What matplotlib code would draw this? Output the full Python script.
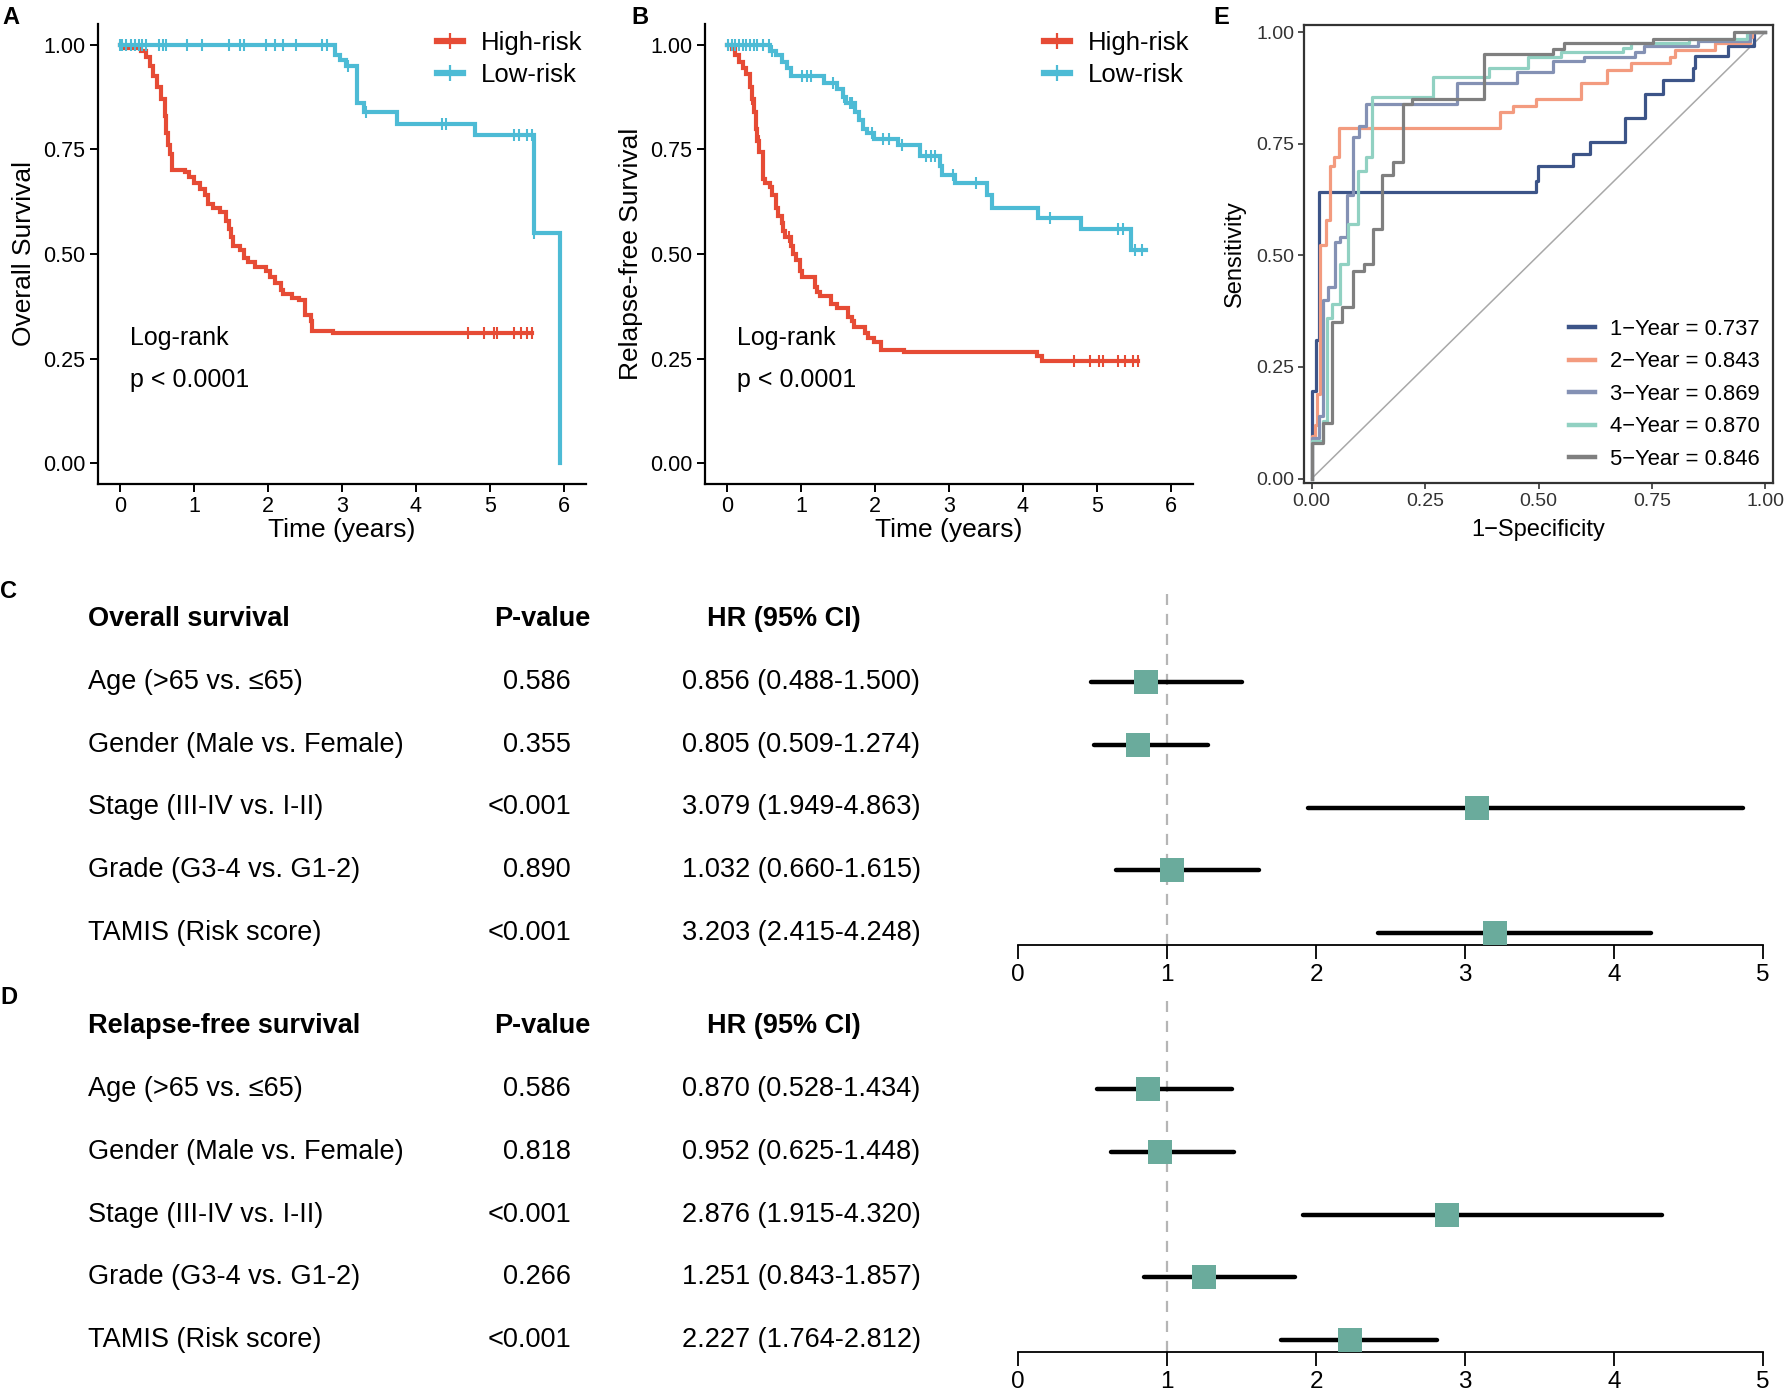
import numpy as np
import matplotlib
matplotlib.use("Agg")
import matplotlib.pyplot as plt
import matplotlib.transforms as mtransforms
from matplotlib.lines import Line2D

plt.rcParams['font.family'] = ['Liberation Sans', 'DejaVu Sans']

W, H = 1785, 1398

# ---- Kaplan-Meier data (time in years, survival prob) ----
# A: overall survival
os_high_t = [0, 0.03, 0.28, 0.35, 0.40, 0.45, 0.50, 0.55, 0.60, 0.625, 0.65, 0.675, 0.70, 0.875,
             0.925, 1.0, 1.075, 1.15, 1.19, 1.25, 1.35, 1.425, 1.475, 1.5, 1.525, 1.625, 1.675,
             1.725, 1.825, 1.975, 2.025, 2.1, 2.175, 2.2, 2.325, 2.425, 2.5, 2.575, 2.6, 2.875]
os_high_s = [1.0, 0.993, 0.985, 0.97, 0.95, 0.925, 0.90, 0.87, 0.83, 0.79, 0.76, 0.74, 0.70, 0.695,
             0.685, 0.67, 0.655, 0.64, 0.62, 0.61, 0.60, 0.58, 0.56, 0.54, 0.52, 0.51, 0.49,
             0.48, 0.47, 0.46, 0.445, 0.43, 0.415, 0.405, 0.395, 0.39, 0.355, 0.34, 0.315, 0.31]
os_high_end = 5.575
os_high_cens = [4.7, 4.915, 5.05, 5.1, 5.325, 5.425, 5.5, 5.575]

os_low_t = [0, 2.9, 2.975, 3.05, 3.2, 3.3, 3.75, 4.8, 5.6, 5.95]
os_low_s = [1.0, 0.975, 0.965, 0.95, 0.86, 0.84, 0.81, 0.785, 0.55, 0.0]
os_low_end = 5.95
os_low_cens = [0.0, 0.025, 0.075, 0.15, 0.2, 0.25, 0.3, 0.35, 0.525, 0.575, 0.625, 0.9, 1.1,
               1.475, 1.625, 1.675, 1.975, 2.1, 2.2, 2.375, 2.725, 2.8, 3.08, 3.33, 4.35, 4.4,
               5.325, 5.4, 5.5, 5.575, 5.6]

# B: relapse-free survival
rfs_high_t = [0, 0.06, 0.11, 0.16, 0.21, 0.26, 0.31, 0.335, 0.36, 0.385, 0.41, 0.435, 0.485, 0.51,
              0.585, 0.61, 0.66, 0.685, 0.735, 0.76, 0.785, 0.86, 0.885, 0.935, 0.985, 1.01, 1.185,
              1.21, 1.26, 1.41, 1.485, 1.635, 1.685, 1.71, 1.86, 1.91, 1.985, 2.085, 2.385, 4.185, 4.26]
rfs_high_s = [1.0, 0.99, 0.975, 0.96, 0.945, 0.93, 0.90, 0.87, 0.84, 0.80, 0.77, 0.745, 0.68, 0.67,
              0.66, 0.64, 0.61, 0.59, 0.575, 0.555, 0.54, 0.52, 0.50, 0.485, 0.46, 0.445, 0.42,
              0.41, 0.40, 0.38, 0.37, 0.35, 0.34, 0.325, 0.31, 0.30, 0.29, 0.27, 0.265, 0.255, 0.245]
rfs_high_end = 5.56
rfs_high_cens = [0.335, 0.43, 0.835, 4.685, 4.91, 5.035, 5.085, 5.285, 5.385, 5.485, 5.56]

rfs_low_t = [0, 0.585, 0.66, 0.735, 0.81, 0.86, 1.31, 1.485, 1.56, 1.61, 1.735, 1.785, 1.835,
             1.885, 1.985, 2.31, 2.61, 2.885, 2.91, 3.085, 3.51, 3.585, 4.21, 4.785, 5.46]
rfs_low_s = [1.0, 0.985, 0.975, 0.96, 0.945, 0.925, 0.91, 0.895, 0.875, 0.86, 0.84, 0.82, 0.80,
             0.79, 0.775, 0.76, 0.735, 0.71, 0.69, 0.67, 0.64, 0.61, 0.585, 0.56, 0.51]
rfs_low_end = 5.66
rfs_low_cens = [0.01, 0.06, 0.11, 0.16, 0.21, 0.26, 0.31, 0.36, 0.41, 0.485, 0.56, 0.61, 1.01,
                1.085, 1.135, 1.435, 1.585, 1.66, 1.685, 1.96, 2.11, 2.185, 2.36, 2.685, 2.76,
                2.81, 3.06, 3.36, 4.36, 5.285, 5.36, 5.51, 5.61]

# ---- ROC data (E) ----
roc_labels = ["1\u2212Year = 0.737", "2\u2212Year = 0.843", "3\u2212Year = 0.869",
              "4\u2212Year = 0.870", "5\u2212Year = 0.846"]
roc_colors = ["#3C5488", "#F39B7F", "#8491B4", "#91D1C2", "#7F7F7F"]
roc_fpr = [
    [0, 0, 0.01, 0.015, 0.494, 0.498, 0.576, 0.613, 0.69, 0.734, 0.774, 0.84, 0.846, 0.918, 0.975, 1.0],
    [0, 0, 0.007, 0.012, 0.018, 0.031, 0.04, 0.05, 0.06, 0.416, 0.443, 0.494, 0.593, 0.652, 0.704,
     0.79, 0.8, 0.89, 0.967, 0.97, 1.0],
    [0, 0, 0.015, 0.025, 0.037, 0.051, 0.062, 0.078, 0.09, 0.105, 0.12, 0.32, 0.453, 0.531, 0.60,
     0.712, 0.733, 0.852, 0.967, 1.0],
    [0, 0, 0.025, 0.033, 0.045, 0.062, 0.08, 0.103, 0.12, 0.134, 0.267, 0.39, 0.477, 0.55, 0.687,
     0.704, 0.831, 0.959, 1.0],
    [0, 0, 0.025, 0.045, 0.067, 0.09, 0.115, 0.136, 0.156, 0.18, 0.202, 0.222, 0.379, 0.531, 0.556,
     0.753, 0.93, 1.0],
]
roc_tpr = [
    [0, 0.195, 0.31, 0.643, 0.667, 0.70, 0.726, 0.753, 0.807, 0.862, 0.892, 0.919, 0.946, 0.968, 1.0, 1.0],
    [0, 0.095, 0.12, 0.19, 0.524, 0.58, 0.70, 0.72, 0.785, 0.82, 0.835, 0.85, 0.885, 0.915, 0.93,
     0.945, 0.96, 0.975, 0.99, 1.0, 1.0],
    [0, 0.09, 0.14, 0.40, 0.43, 0.53, 0.54, 0.635, 0.765, 0.79, 0.84, 0.885, 0.91, 0.935, 0.945,
     0.955, 0.968, 0.98, 1.0, 1.0],
    [0, 0.085, 0.13, 0.36, 0.39, 0.48, 0.57, 0.69, 0.72, 0.855, 0.90, 0.92, 0.945, 0.955, 0.965,
     0.975, 0.985, 1.0, 1.0],
    [0, 0.08, 0.125, 0.35, 0.385, 0.465, 0.48, 0.56, 0.68, 0.71, 0.84, 0.85, 0.95, 0.962, 0.975,
     0.985, 1.0, 1.0],
]

# ---- Forest data (C, D) ----
variables = ["Age (>65 vs. \u226465)", "Gender (Male vs. Female)", "Stage (III-IV vs. I-II)",
             "Grade (G3-4 vs. G1-2)", "TAMIS (Risk score)"]
os_p = ["0.586", "0.355", "<0.001", "0.890", "<0.001"]
os_hr = [0.856, 0.805, 3.079, 1.032, 3.203]
os_lo = [0.488, 0.509, 1.949, 0.660, 2.415]
os_hi = [1.500, 1.274, 4.863, 1.615, 4.248]
rfs_p = ["0.586", "0.818", "<0.001", "0.266", "<0.001"]
rfs_hr = [0.870, 0.952, 2.876, 1.251, 2.227]
rfs_lo = [0.528, 0.625, 1.915, 0.843, 1.764]
rfs_hi = [1.434, 1.448, 4.320, 1.857, 2.812]

RED = "#E64B35"
BLUE = "#4DBBD5"
TEAL = "#6AAB9C"


def rect(left, right, top, bottom):
    return [left / W, 1 - bottom / H, (right - left) / W, (bottom - top) / H]


fig = plt.figure(figsize=(W / 100, H / 100), dpi=100)


def km_curve(ax, t, s, end, cens, color):
    tt = list(t) + [end]
    ss = list(s) + [s[-1]]
    ax.step(tt, ss, where='post', color=color, lw=3.0, solid_joinstyle='miter')
    idx = np.searchsorted(np.array(t), np.array(cens), side='right') - 1
    ax.plot(cens, np.array(s)[idx], ls='none', marker='|', ms=8, mew=1.5, color=color)


def km_panel(ax, curves, ylabel):
    for c in curves:
        km_curve(ax, *c)
    ax.set_xlim(-0.3, 6.3)
    ax.set_ylim(-0.05, 1.05)
    ax.set_xticks(range(7))
    ax.set_yticks([0, 0.25, 0.5, 0.75, 1.0])
    ax.set_yticklabels(["0.00", "0.25", "0.50", "0.75", "1.00"])
    for sp in ['top', 'right']:
        ax.spines[sp].set_visible(False)
    for sp in ['left', 'bottom']:
        ax.spines[sp].set_linewidth(1.6)
    ax.tick_params(labelsize=15.5, width=1.4, length=6, pad=3, colors='black')
    ax.set_xlabel("Time (years)", fontsize=19, va='center')
    ax.xaxis.set_label_coords(0.5, -0.10)
    ax.set_ylabel(ylabel, fontsize=19, va='center')
    ax.yaxis.set_label_coords(-0.152, 0.5)
    handles = [Line2D([], [], color=RED, lw=4.5, marker='|', ms=11, mew=1.6),
               Line2D([], [], color=BLUE, lw=4.5, marker='|', ms=11, mew=1.6)]
    ax.legend(handles, ["High-risk", "Low-risk"], loc='upper left', bbox_to_anchor=(0.695, 0.985),
              frameon=False, fontsize=18.5, handlelength=1.0, handletextpad=0.7,
              labelspacing=0.3, borderpad=0, borderaxespad=0)
    ax.text(0.066, 0.317, "Log-rank", transform=ax.transAxes, fontsize=18, va='center')
    ax.text(0.066, 0.226, "p < 0.0001", transform=ax.transAxes, fontsize=18, va='center')


axA = fig.add_axes(rect(98, 586, 24, 484))
km_panel(axA, [(os_high_t, os_high_s, os_high_end, os_high_cens, RED),
               (os_low_t, os_low_s, os_low_end, os_low_cens, BLUE)], "Overall Survival")

axB = fig.add_axes(rect(705, 1193, 24, 484))
km_panel(axB, [(rfs_high_t, rfs_high_s, rfs_high_end, rfs_high_cens, RED),
               (rfs_low_t, rfs_low_s, rfs_low_end, rfs_low_cens, BLUE)], "Relapse-free Survival")

# ---- E: time-dependent ROC ----
axE = fig.add_axes(rect(1304, 1773, 25, 483))
axE.plot([0, 1], [0, 1], color='#A8A8A8', lw=1.1)
for fpr, tpr, col in zip(roc_fpr, roc_tpr, roc_colors):
    axE.plot(fpr, tpr, drawstyle='steps-post', color=col, lw=2.3)
axE.set_xlim(-0.017, 1.017)
axE.set_ylim(-0.01, 1.016)
ticks = [0, 0.25, 0.5, 0.75, 1.0]
tlabs = ["0.00", "0.25", "0.50", "0.75", "1.00"]
axE.set_xticks(ticks)
axE.set_xticklabels(tlabs)
axE.set_yticks(ticks)
axE.set_yticklabels(tlabs)
for sp in axE.spines.values():
    sp.set_linewidth(1.6)
    sp.set_color('#333333')
axE.tick_params(labelsize=14, width=1.2, length=4, pad=3, colors='#333333', labelcolor='#333333')
axE.set_xlabel("1\u2212Specificity", fontsize=17, va='center')
axE.xaxis.set_label_coords(0.5, -0.103)
axE.set_ylabel("Sensitivity", fontsize=17, va='center')
axE.yaxis.set_label_coords(-0.148, 0.5)
roc_handles = [Line2D([], [], color=c, lw=3.2) for c in roc_colors]
axE.legend(roc_handles, roc_labels, loc='upper left', bbox_to_anchor=(0.565, 0.359), frameon=False,
           fontsize=15.8, handlelength=1.2, handletextpad=0.65, labelspacing=0.53,
           borderpad=0, borderaxespad=0)


# ---- C / D: forest plots ----
def forest(top, bottom, title, pvals, hr, lo, hi):
    row0 = top + 88
    step = 62.75
    ax = fig.add_axes(rect(1018, 1763, top, bottom))
    ax.set_xlim(0, 5)
    ax.set_ylim((bottom - row0) / step, (top - row0) / step)
    for sp in ['top', 'right', 'left']:
        ax.spines[sp].set_visible(False)
    ax.spines['bottom'].set_linewidth(1.3)
    ax.set_yticks([])
    ax.set_xticks(range(6))
    ax.tick_params(axis='x', labelsize=17.5, length=10, width=1.3, pad=4)
    ax.patch.set_alpha(0)
    ax.axvline(1, color='#B5B5B5', lw=1.6, ls=(0, (5, 4)), zorder=1)
    rows = np.arange(len(hr))
    for i in rows:
        ax.plot([lo[i], hi[i]], [i, i], color='black', lw=3.2, solid_capstyle='round', zorder=2)
    ax.plot(hr, rows, ls='none', marker='s', ms=17, color=TEAL, mew=0, zorder=3)

    tr = mtransforms.blended_transform_factory(fig.transFigure, ax.transData)
    fs = 19.5
    fig.text(88 / W, -1, title, transform=tr, fontsize=fs, fontweight='bold', va='center', ha='left')
    fig.text(542 / W, -1, "P-value", transform=tr, fontsize=fs, fontweight='bold', va='center', ha='center')
    fig.text(784 / W, -1, "HR (95% CI)", transform=tr, fontsize=fs, fontweight='bold', va='center', ha='center')
    for i in rows:
        fig.text(88 / W, i, variables[i], transform=tr, fontsize=fs, va='center', ha='left')
        fig.text(571 / W, i, pvals[i], transform=tr, fontsize=fs, va='center', ha='right')
        fig.text(682 / W, i, "%.3f (%.3f-%.3f)" % (hr[i], lo[i], hi[i]), transform=tr,
                 fontsize=fs, va='center', ha='left')
    return ax


forest(594, 945, "Overall survival", os_p, os_hr, os_lo, os_hi)
forest(1001, 1352, "Relapse-free survival", rfs_p, rfs_hr, rfs_lo, rfs_hi)

# panel letters
for lab, x, y in [("A", 2, 17), ("B", 631, 17), ("E", 1213, 17), ("C", 0, 592), ("D", 0, 997)]:
    fig.text(x / W, 1 - y / H, lab, fontsize=17, fontweight='bold', va='center', ha='left')

fig.savefig("out.png", dpi=100, facecolor='white')
